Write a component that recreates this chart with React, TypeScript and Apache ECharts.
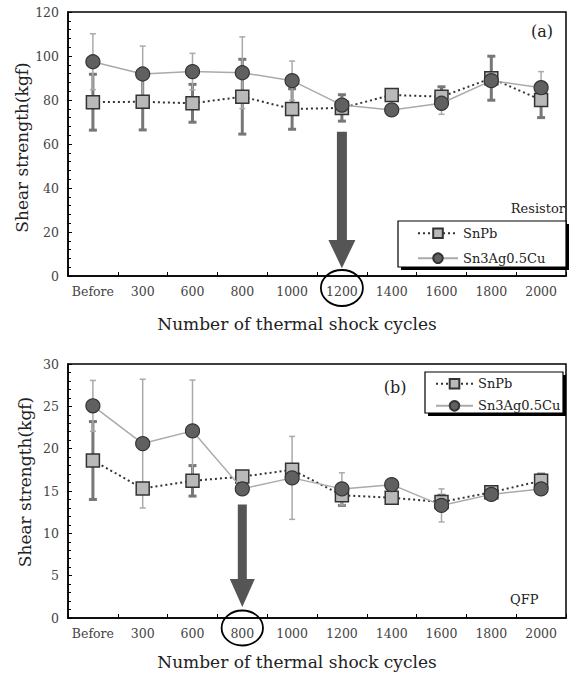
import React, { useEffect, useRef } from 'react';
import * as echarts from 'echarts';

const categories = ['Before', '300', '600', '800', '1000', '1200', '1400', '1600', '1800', '2000'];

// (a) Resistor
const resistorSnPb = [79, 79.2, 78.5, 81.5, 75.9, 76.4, 82.3, 81.5, 89.9, 80];
const resistorSnPbErr = [12.7, 12.8, 8.6, 17, 9.2, 6, 1.5, 4.5, 10, 8];
const resistorSAC = [97.4, 91.8, 92.9, 92.4, 88.8, 77.7, 75.5, 78.5, 88.8, 85.6];
const resistorSACErr = [12.7, 12.7, 8.3, 16.3, 8.9, 3, 1.5, 5, 2, 7.3];

// (b) QFP
const qfpSnPb = [18.6, 15.3, 16.2, 16.7, 17.5, 14.5, 14.2, 13.7, 14.85, 16.2];
const qfpSnPbErr = [4.6, 0.5, 1.8, 0.5, 0.6, 1.2, 0.5, 0.8, 0.5, 0.8];
const qfpSAC = [25.06, 20.6, 22.1, 15.25, 16.55, 15.25, 15.75, 13.3, 14.6, 15.25];
const qfpSACErr = [3.0, 7.6, 6.0, 0.5, 4.9, 1.9, 0.5, 1.95, 0.5, 0.5];

// arrow annotations: [category, shaft top value, head start value, tip value]
const arrowA = ['1200', 65.6, 16.4, 3.5] as const;
const arrowB = ['800', 13.4, 4.6, 1.3] as const;

const FONT = 'DejaVu Serif';
const SNPB = 'SnPb';
const SAC = 'Sn3Ag0.5Cu';

function errData(vals: number[], errs: number[]) {
  return vals.map((v, i) => [i, v - errs[i], v + errs[i]]);
}

function errSeries(name: string, grid: number, vals: number[], errs: number[], color: string, width: number, cap: number) {
  return {
    type: 'custom',
    name,
    xAxisIndex: grid,
    yAxisIndex: grid,
    z: 1,
    silent: true,
    data: errData(vals, errs),
    encode: { x: 0, y: [1, 2] },
    renderItem: (params: any, api: any) => {
      const i = api.value(0);
      const lo = api.coord([i, api.value(1)]);
      const hi = api.coord([i, api.value(2)]);
      const style = { stroke: color, lineWidth: width };
      return {
        type: 'group',
        children: [
          { type: 'line', shape: { x1: lo[0], y1: lo[1], x2: hi[0], y2: hi[1] }, style },
          { type: 'line', shape: { x1: lo[0] - cap, y1: lo[1], x2: lo[0] + cap, y2: lo[1] }, style },
          { type: 'line', shape: { x1: hi[0] - cap, y1: hi[1], x2: hi[0] + cap, y2: hi[1] }, style },
        ],
      };
    },
  };
}

function lineSeries(name: string, grid: number, vals: number[]) {
  const isPb = name === SNPB;
  return {
    type: 'line',
    name,
    xAxisIndex: grid,
    yAxisIndex: grid,
    z: isPb ? 3 : 4,
    data: vals,
    symbol: isPb ? 'rect' : 'circle',
    symbolSize: isPb ? 13 : 14,
    lineStyle: isPb
      ? { color: '#333', width: 2, type: [2, 3] }
      : { color: '#aaa', width: 1.5, type: 'solid' },
    itemStyle: isPb
      ? { color: '#b9b9b9', borderColor: '#333', borderWidth: 1.5 }
      : { color: '#606060', borderColor: '#333', borderWidth: 1.2 },
  };
}

function xAxis(grid: number) {
  return {
    type: 'category',
    gridIndex: grid,
    data: categories,
    boundaryGap: true,
    axisLine: { lineStyle: { color: '#000', width: 1.5 } },
    axisTick: { show: true, inside: true, length: 4, lineStyle: { color: '#000' } },
    axisLabel: { color: '#444', fontFamily: FONT, fontSize: 12.5, margin: 9, interval: 0 },
    splitLine: { show: false },
  };
}

function yAxis(grid: number, max: number, interval: number) {
  return {
    type: 'value',
    gridIndex: grid,
    min: 0,
    max,
    interval,
    axisLine: { show: true, lineStyle: { color: '#000', width: 1.5 } },
    axisTick: { show: true, inside: true, length: 4, lineStyle: { color: '#000' } },
    minorTick: { show: true, splitNumber: 5, length: 3, lineStyle: { color: '#000' } },
    splitLine: { show: false },
    axisLabel: { color: '#444', fontFamily: FONT, fontSize: 12.5, margin: 9 },
  };
}

function legendBox(x: number, y: number, w: number, h: number) {
  return [
    { type: 'rect', z: 5, shape: { x: x + 3, y: y + 3, width: w, height: h }, style: { fill: '#000' } },
    { type: 'rect', z: 6, shape: { x, y, width: w, height: h }, style: { fill: '#fff', stroke: '#000', lineWidth: 1.2 } },
  ];
}

function text(t: string, x: number, y: number, size: number, align: string, extra: any = {}) {
  return {
    type: 'text',
    z: 10,
    x,
    y,
    ...extra,
    style: { text: t, fill: '#222', fontFamily: FONT, fontSize: size, textAlign: align, textVerticalAlign: 'middle' },
  };
}

function legend(left: number, top: number, itemWidth: number, itemGap: number) {
  return {
    orient: 'vertical', left, top, padding: 0, itemWidth, itemHeight: 12, itemGap,
    z: 12, selectedMode: false, data: [SNPB, SAC],
    textStyle: { fontFamily: FONT, fontSize: 13, color: '#222', lineHeight: 12 },
  };
}

function buildOption(extraGraphic: any[]) {
  return {
    animation: false,
    backgroundColor: '#fff',
    textStyle: { fontFamily: FONT },
    grid: [
      { left: 68, top: 12, width: 498, height: 264, show: true, borderColor: '#000', borderWidth: 1.5 },
      { left: 68, top: 364, width: 498, height: 254, show: true, borderColor: '#000', borderWidth: 1.5 },
    ],
    xAxis: [xAxis(0), xAxis(1)],
    yAxis: [yAxis(0, 120, 20), yAxis(1, 30, 5)],
    legend: [legend(417, 226.7, 40, 12), legend(435, 377.3, 37, 9)],
    graphic: [
      ...legendBox(398, 221, 168, 46),
      ...legendBox(425, 372, 138, 41),
      text('(a)', 542, 31.7, 16, 'center'),
      text('Resistor', 565, 208, 13, 'right'),
      text('(b)', 395, 387, 16, 'center'),
      text('QFP', 510, 599, 13, 'left'),
      text('Number of thermal shock cycles', 297, 324, 17, 'center'),
      text('Number of thermal shock cycles', 297, 661.7, 17, 'center'),
      text('Shear strength(kgf)', 22, 147.5, 17, 'center', { rotation: Math.PI / 2 }),
      text('Shear strength(kgf)', 25, 482, 17, 'center', { rotation: Math.PI / 2 }),
      ...extraGraphic,
    ],
    series: [
      errSeries('SnPb err a', 0, resistorSnPb, resistorSnPbErr, '#777', 3, 4),
      errSeries('SAC err a', 0, resistorSAC, resistorSACErr, '#aaa', 1.5, 3),
      lineSeries(SNPB, 0, resistorSnPb),
      lineSeries(SAC, 0, resistorSAC),
      errSeries('SnPb err b', 1, qfpSnPb, qfpSnPbErr, '#777', 3, 4),
      errSeries('SAC err b', 1, qfpSAC, qfpSACErr, '#aaa', 1.5, 3),
      lineSeries(SNPB, 1, qfpSnPb),
      lineSeries(SAC, 1, qfpSAC),
    ],
  };
}

function arrowShapes(chart: any, grid: number, a: readonly [string, number, number, number], shaftW: number, headW: number, ellipseDy: number, rx: number, ry: number) {
  const idx = categories.indexOf(a[0]);
  const top = chart.convertToPixel({ gridIndex: grid }, [idx, a[1]]);
  const head = chart.convertToPixel({ gridIndex: grid }, [idx, a[2]]);
  const tip = chart.convertToPixel({ gridIndex: grid }, [idx, a[3]]);
  const base = chart.convertToPixel({ gridIndex: grid }, [idx, 0]);
  const x = top[0];
  const s = shaftW / 2;
  const h = headW / 2;
  return [
    {
      type: 'polygon', z: 8,
      shape: { points: [[x - s, top[1]], [x + s, top[1]], [x + s, head[1]], [x + h, head[1]], [x, tip[1]], [x - h, head[1]], [x - s, head[1]]] },
      style: { fill: '#555' },
    },
    {
      type: 'ellipse', z: 8,
      shape: { cx: x, cy: base[1] + ellipseDy, rx, ry },
      style: { fill: 'none', stroke: '#000', lineWidth: 1.8 },
    },
  ];
}

export default function App() {
  const ref = useRef<HTMLDivElement>(null);
  useEffect(() => {
    document.body.style.margin = '0';
    if (!ref.current) return;
    const chart = echarts.init(ref.current, null, { renderer: 'svg' });
    chart.setOption(buildOption([]) as any);
    const extra = [
      ...arrowShapes(chart, 0, arrowA, 10, 27, 12, 21, 18),
      ...arrowShapes(chart, 1, arrowB, 9, 25, 10, 20.7, 17.5),
    ];
    chart.setOption(buildOption(extra) as any, true);
    return () => chart.dispose();
  }, []);
  return (
    <>
      <style>{'body{margin:0}'}</style>
      <div ref={ref} style={{ width: 576, height: 675 }} />
    </>
  );
}
